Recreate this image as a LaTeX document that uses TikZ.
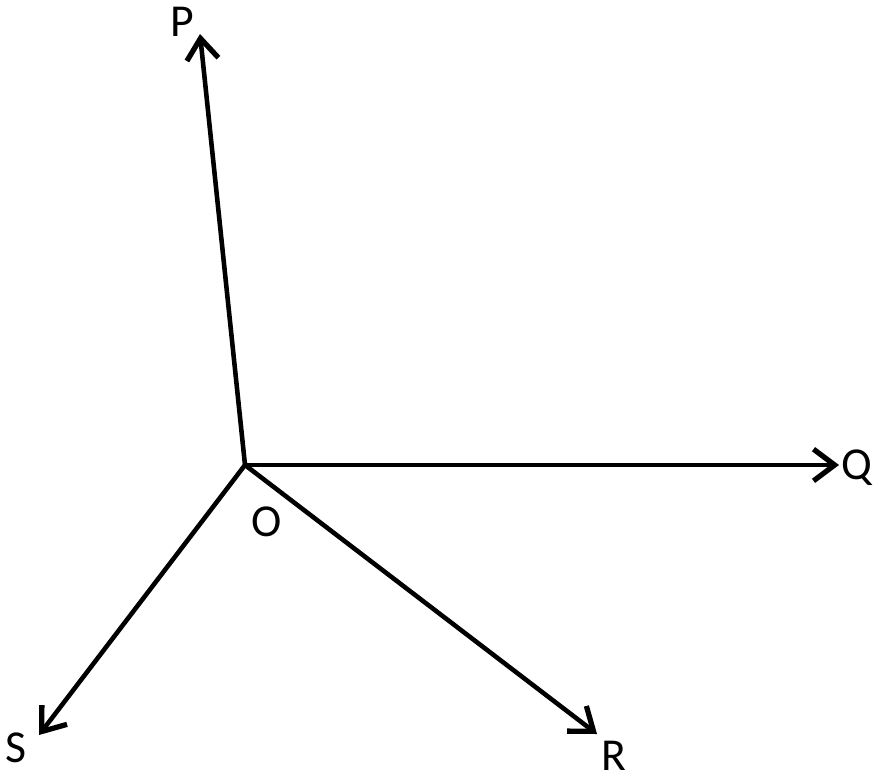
\documentclass[tikz,border=0pt]{standalone}
\usepackage{fontspec}
\setmainfont{Carlito}
\usetikzlibrary{arrows.meta}

\begin{document}
\begin{tikzpicture}[x=0.01cm,y=0.01cm]
\tikzset{vec/.style={line width=1.3pt,-{Straight Barb[length=6pt,width=9pt,line width=1.5pt]}},
         lbl/.style={font=\fontsize{13}{15}\selectfont,inner sep=0pt}}
\useasboundingbox (0,0) rectangle (874,778);
\coordinate (O) at (245,313);
\coordinate (P) at (200,744);
\coordinate (Q) at (839,313);
\coordinate (R) at (597,44);
\coordinate (S) at (39,43);
\draw[vec](O)--(P);
\draw[vec](O)--(Q);
\draw[vec](O)--(R);
\draw[vec](O)--(S);
\node[lbl] (pl) at (182,756) {P};
\node[lbl] (ql) at (857,310) {Q};
\node[lbl] (ol) at (267,256) {O};
\node[lbl] (rl) at (614,22) {R};
\node[lbl] (sl) at (16,30) {S};
\end{tikzpicture}
\end{document}
